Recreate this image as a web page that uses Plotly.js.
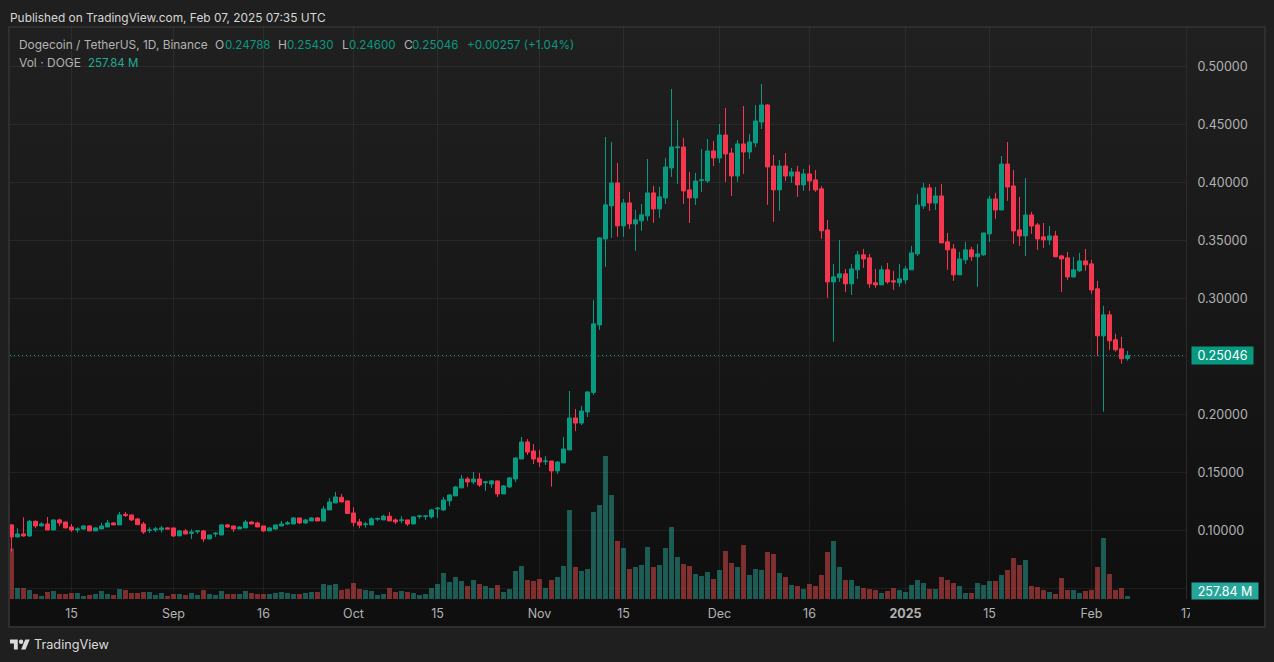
<!DOCTYPE html>
<html>
<head>
<meta charset="utf-8">
<script src="https://cdn.plot.ly/plotly-3.0.1.min.js"></script>
<style>
  html, body { margin: 0; padding: 0; width: 1274px; height: 662px; overflow: hidden; background: #1f1f1f; }
  #frame { position: absolute; left: 8px; top: 26px; width: 1258px; height: 602px; box-sizing: border-box; border: 2px solid #2e2e2e; background: #0f0f0f; }
  #pane { position: absolute; left: 0; top: 0; width: 100%; height: 571px; background: linear-gradient(#202020, #0f0f0f); }
  #myDiv { position: absolute; left: 0; top: 0; width: 1274px; height: 662px; }
  #cover { position: absolute; left: 1190px; top: 600px; width: 74px; height: 26px; background: #0f0f0f; }
  #logo { position: absolute; left: 10px; top: 639px; width: 20px; height: 11px; fill: #dbdbdb; }
</style>
</head>
<body>
<div id="frame"><div id="pane"></div></div>
<div id="myDiv"></div>
<div id="cover"></div>
<svg id="logo" viewBox="0 4 36 18"><path d="M14 22H7V11H0V4h14v18zM28 22h-8l7.5-18h8L28 22z"/><circle cx="20" cy="8" r="4"/></svg>
<script>
// daily DOGE/USDT candles, first one is 2024-08-05
var open = [
  0.1044,0.0940,0.0966,0.0949,0.1075,0.1035,0.1052,0.1000,0.1087,0.1069,
  0.1026,0.1000,0.1009,0.1035,0.0992,0.1009,0.1026,0.1061,0.1044,0.1135,
  0.1130,0.1095,0.1052,0.0995,0.1000,0.1003,0.1018,0.1018,0.0949,0.0992,
  0.0971,0.0986,0.0992,0.0923,0.0966,0.0957,0.1044,0.1035,0.1009,0.1018,
  0.1069,0.1061,0.1035,0.0992,0.1009,0.1035,0.1052,0.1052,0.1104,0.1061,
  0.1078,0.1104,0.1078,0.1173,0.1233,0.1282,0.1251,0.1147,0.1070,0.1047,
  0.1044,0.1093,0.1087,0.1119,0.1087,0.1081,0.1087,0.1052,0.1116,0.1116,
  0.1113,0.1182,0.1173,0.1251,0.1294,0.1363,0.1440,0.1414,0.1440,0.1408,
  0.1397,0.1423,0.1311,0.1371,0.1440,0.1612,0.1759,0.1681,0.1621,0.1589,
  0.1595,0.1509,0.1578,0.1690,0.1966,0.1922,0.2017,0.2186,0.2768,0.3509,
  0.3794,0.3992,0.3622,0.3820,0.3639,0.3665,0.3708,0.3906,0.3768,0.3863,
  0.4121,0.4296,0.4302,0.3932,0.3863,0.4012,0.4009,0.4268,0.4207,0.4405,
  0.4250,0.4052,0.4328,0.4259,0.4337,0.4517,0.4664,0.4138,0.3932,0.4138,
  0.4052,0.4087,0.3975,0.4070,0.4018,0.3941,0.3587,0.3139,0.3174,0.3208,
  0.3122,0.3243,0.3372,0.3346,0.3131,0.3113,0.3243,0.3148,0.3131,0.3156,
  0.3243,0.3380,0.3794,0.3949,0.3819,0.3880,0.3484,0.3423,0.3200,0.3329,
  0.3415,0.3355,0.3372,0.3553,0.3854,0.3759,0.4155,0.3966,0.3587,0.3535,
  0.3716,0.3630,0.3527,0.3501,0.3535,0.3363,0.3346,0.3182,0.3234,0.3320,
  0.3294,0.3079,0.2674,0.2855,0.2640,0.2562,0.24788
];
var close = [
  0.0940,0.0966,0.0949,0.1075,0.1035,0.1052,0.1000,0.1087,0.1061,0.1018,
  0.1000,0.1009,0.1035,0.0992,0.1018,0.1035,0.1061,0.1044,0.1130,0.1127,
  0.1087,0.1046,0.0983,0.1000,0.1009,0.1018,0.1009,0.0949,0.0992,0.0966,
  0.0983,0.0992,0.0923,0.0957,0.0972,0.1044,0.1026,0.1009,0.1026,0.1069,
  0.1052,0.1026,0.0992,0.1018,0.1044,0.1052,0.1061,0.1104,0.1061,0.1087,
  0.1104,0.1078,0.1181,0.1242,0.1285,0.1242,0.1142,0.1064,0.1041,0.1052,
  0.1096,0.1099,0.1119,0.1078,0.1070,0.1087,0.1052,0.1113,0.1121,0.1121,
  0.1173,0.1188,0.1259,0.1302,0.1371,0.1440,0.1414,0.1440,0.1388,0.1414,
  0.1423,0.1311,0.1380,0.1449,0.1621,0.1759,0.1672,0.1612,0.1586,0.1595,
  0.1509,0.1586,0.1698,0.1966,0.1922,0.2026,0.2190,0.2777,0.3518,0.3803,
  0.3992,0.3622,0.3820,0.3639,0.3674,0.3717,0.3906,0.3768,0.3872,0.4130,
  0.4302,0.4302,0.3923,0.3863,0.4009,0.4018,0.4268,0.4207,0.4405,0.4242,
  0.4052,0.4328,0.4259,0.4345,0.4526,0.4664,0.4130,0.3932,0.4138,0.4052,
  0.4087,0.3975,0.4070,0.4009,0.3932,0.3579,0.3139,0.3182,0.3208,0.3122,
  0.3251,0.3372,0.3337,0.3122,0.3113,0.3243,0.3139,0.3139,0.3165,0.3251,
  0.3389,0.3802,0.3949,0.3819,0.3880,0.3475,0.3415,0.3200,0.3337,0.3415,
  0.3355,0.3380,0.3561,0.3854,0.3759,0.4155,0.3957,0.3578,0.3535,0.3716,
  0.3621,0.3509,0.3501,0.3535,0.3355,0.3337,0.3182,0.3243,0.3320,0.3286,
  0.3070,0.2674,0.2855,0.2631,0.2554,0.2476,0.25046
];
var high = [
  0.1050,0.1015,0.1110,0.1087,0.1081,0.1067,0.1112,0.1090,0.1098,0.1070,
  0.1052,0.1023,0.1041,0.1041,0.1023,0.1061,0.1087,0.1069,0.1155,0.1155,
  0.1130,0.1104,0.1069,0.1023,0.1026,0.1035,0.1026,0.1018,0.1000,0.1009,
  0.1006,0.0992,0.1000,0.0957,0.0983,0.1052,0.1052,0.1035,0.1035,0.1087,
  0.1078,0.1072,0.1035,0.1026,0.1044,0.1078,0.1078,0.1112,0.1104,0.1095,
  0.1112,0.1112,0.1207,0.1276,0.1328,0.1311,0.1251,0.1196,0.1096,0.1070,
  0.1110,0.1107,0.1130,0.1153,0.1101,0.1119,0.1087,0.1119,0.1121,0.1121,
  0.1182,0.1199,0.1285,0.1311,0.1380,0.1474,0.1457,0.1500,0.1492,0.1423,
  0.1431,0.1423,0.1388,0.1457,0.1629,0.1802,0.1784,0.1741,0.1690,0.1638,
  0.1595,0.1595,0.1802,0.2198,0.2043,0.2069,0.2198,0.2984,0.3525,0.4388,
  0.4345,0.4164,0.3854,0.3915,0.3760,0.3811,0.4199,0.3966,0.3958,0.4207,
  0.4802,0.4535,0.4380,0.4087,0.4078,0.4285,0.4371,0.4354,0.4500,0.4638,
  0.4294,0.4362,0.4655,0.4414,0.4664,0.4845,0.4672,0.4233,0.4190,0.4250,
  0.4121,0.4138,0.4113,0.4147,0.4104,0.3966,0.3673,0.3294,0.3501,0.3251,
  0.3294,0.3406,0.3423,0.3380,0.3251,0.3277,0.3303,0.3234,0.3294,0.3277,
  0.3449,0.3897,0.3992,0.3983,0.3957,0.3983,0.3561,0.3466,0.3398,0.3484,
  0.3441,0.3466,0.3561,0.3880,0.3906,0.4224,0.4345,0.4104,0.3871,0.4035,
  0.3742,0.3647,0.3647,0.3621,0.3578,0.3372,0.3398,0.3355,0.3389,0.3423,
  0.3329,0.3148,0.2933,0.2890,0.2692,0.2666,0.25430
];
var low = [
  0.0814,0.0940,0.0943,0.0940,0.1015,0.1035,0.1000,0.1000,0.1035,0.1015,
  0.0983,0.0978,0.1000,0.0992,0.0992,0.1009,0.1026,0.1044,0.1044,0.1112,
  0.1078,0.1044,0.0966,0.0975,0.0983,0.0978,0.1006,0.0940,0.0949,0.0966,
  0.0923,0.0966,0.0897,0.0923,0.0940,0.0957,0.1018,0.0983,0.1009,0.1018,
  0.1052,0.1026,0.0983,0.0992,0.1000,0.1035,0.1044,0.1052,0.1052,0.1052,
  0.1078,0.1078,0.1072,0.1173,0.1233,0.1242,0.1142,0.1030,0.1015,0.1021,
  0.1044,0.1078,0.1087,0.1078,0.1052,0.1058,0.1035,0.1052,0.1096,0.1087,
  0.1098,0.1104,0.1164,0.1207,0.1294,0.1363,0.1371,0.1397,0.1371,0.1337,
  0.1363,0.1285,0.1311,0.1363,0.1414,0.1612,0.1647,0.1569,0.1543,0.1560,
  0.1373,0.1483,0.1578,0.1690,0.1853,0.1905,0.1974,0.2166,0.2725,0.3268,
  0.3519,0.3527,0.3527,0.3596,0.3407,0.3579,0.3665,0.3648,0.3691,0.3811,
  0.4044,0.3984,0.3811,0.3648,0.3803,0.3915,0.3992,0.4138,0.4164,0.4001,
  0.3880,0.4001,0.4070,0.4199,0.4302,0.4457,0.3803,0.3656,0.3751,0.4009,
  0.3992,0.3872,0.3923,0.3923,0.3915,0.3510,0.3001,0.2623,0.3139,0.3053,
  0.3027,0.3165,0.3260,0.3088,0.3088,0.3113,0.3122,0.3070,0.3096,0.3122,
  0.3243,0.3363,0.3768,0.3751,0.3759,0.3475,0.3243,0.3148,0.3200,0.3294,
  0.3320,0.3096,0.3363,0.3484,0.3682,0.3759,0.3837,0.3466,0.3449,0.3363,
  0.3553,0.3415,0.3432,0.3458,0.3355,0.3053,0.3156,0.3174,0.3225,0.3234,
  0.3036,0.2502,0.2020,0.2554,0.2537,0.2433,0.24600
];
// volume in millions of DOGE
var volume = [
  4300,935,935,765,425,255,595,680,425,425,
  510,510,255,340,425,680,425,340,850,765,
  510,510,595,595,340,510,255,425,425,340,
  510,340,765,425,340,680,425,425,425,680,
  510,425,425,425,510,595,510,425,425,510,
  595,595,1275,1190,1275,765,850,1360,850,765,
  680,340,425,935,595,680,595,510,340,425,
  935,1275,2210,1445,1870,1530,1105,1615,1275,1105,
  935,1190,595,850,2380,2805,1615,1530,1700,935,
  1615,1870,2805,7565,2720,2380,2550,7395,7990,12155,
  8840,4930,4335,2550,2720,2890,4420,2720,2890,4335,
  6120,3570,2975,2805,2125,1955,2295,1700,2465,4080,
  3060,2720,4590,2040,2550,2465,3995,3825,2210,1870,
  1190,1105,850,1275,1105,2040,3995,4930,2720,1615,
  1615,1105,935,850,765,510,680,935,765,595,
  1190,1615,1360,850,850,1870,1615,1360,1105,510,
  510,1360,1190,1530,1530,2040,2465,3485,2890,3315,
  1105,1020,765,595,425,1785,765,765,510,680,
  765,2720,5185,2125,765,935,257.84
];

var timeTicks = ["2024-08-15","2024-09-01","2024-09-16","2024-10-01","2024-10-15","2024-11-01","2024-11-15","2024-12-01","2024-12-16","2025-01-01","2025-01-15","2025-02-01"];
var timeLabels = ["15","Sep","16","Oct","15","Nov","15","Dec","16","<b>2025</b>","15","Feb"];
var priceTicks = [0.05,0.10,0.15,0.20,0.25,0.30,0.35,0.40,0.45,0.50];
// 0.05 and 0.25 sit under the last volume and last price tags
var priceLabels = ["","0.10000","0.15000","0.20000","","0.30000","0.35000","0.40000","0.45000","0.50000"];

var UP = "#089981", DOWN = "#F7374F";
var FONT = "Inter, 'Liberation Sans', sans-serif";
var GRID = "rgba(255,255,255,0.06)";
var DAY = 86400000;

var dates = open.map(function (o, i) {
  return new Date(Date.UTC(2024, 7, 5 + i)).toISOString().slice(0, 10);
});
var volColors = open.map(function (o, i) {
  return close[i] >= o ? "rgba(40,170,155,0.5)" : "rgba(242,80,80,0.5)";
});

// plot box in page pixels
var L = 10, R = 1186, T = 28, B = 599;
var W = R - L, H = B - T;
var label = function (x, y, text, color, size) {
  return {
    xref: "paper", yref: "paper", x: (x - L) / W, y: (B - y) / H,
    xanchor: "left", yanchor: "middle", showarrow: false, borderpad: 0,
    text: text, font: { family: FONT, size: size || 12, color: color }
  };
};
var GREY = "#b2b2b2";

var annotations = [
  label(9, 18, "Published on TradingView.com, Feb 07, 2025 07:35 UTC", "#d6d6d6", 11.9),
  label(17.5, 44.5, "Dogecoin / TetherUS, 1D, Binance", GREY, 11.9),
  label(214, 44.5, "O", GREY), label(224, 44.5, "0.24788", UP, 11.6),
  label(277, 44.5, "H", GREY), label(286, 44.5, "0.25430", UP, 11.6),
  label(341, 44.5, "L", GREY), label(348, 44.5, "0.24600", UP, 11.6),
  label(403, 44.5, "C", GREY), label(411, 44.5, "0.25046", UP, 11.6),
  label(466, 44.5, "+0.00257 (+1.04%)", UP, 11.7),
  label(17.5, 62.5, "Vol · DOGE", GREY),
  label(87, 62.5, "257.84 M", "#22ab94", 11.5),
  label(1180, 613.5, "17", GREY, 12.5),
  label(33, 644.5, "TradingView", "#dbdbdb", 12.7),
  // last price and last volume tags
  {
    xref: "paper", yref: "y2", x: (1191 - L) / W, y: 0.25046, xanchor: "left", yanchor: "middle",
    showarrow: false, text: "0.25046", width: 61, height: 17, bgcolor: UP, borderpad: 0, align: "center",
    font: { family: FONT, size: 12.5, color: "#ffffff" }
  },
  {
    xref: "paper", yref: "paper", x: (1191 - L) / W, y: (B - 591) / H, xanchor: "left", yanchor: "middle",
    showarrow: false, text: "257.84 M", width: 66, height: 16, bgcolor: "#26a69a", borderpad: 0, align: "center",
    font: { family: FONT, size: 12.5, color: "#ffffff" }
  }
];

var volumeTrace = {
  type: "bar", x: dates, y: volume, yaxis: "y", width: 0.82 * DAY,
  marker: { color: volColors, line: { width: 0 } }, hoverinfo: "skip"
};
var priceTrace = {
  type: "candlestick", x: dates, open: open, high: high, low: low, close: close, yaxis: "y2",
  increasing: { line: { color: UP, width: 1 }, fillcolor: UP },
  decreasing: { line: { color: DOWN, width: 1 }, fillcolor: DOWN },
  whiskerwidth: 0, hoverinfo: "skip"
};

var layout = {
  width: 1274, height: 662,
  margin: { l: L, r: 1274 - R, t: T, b: 662 - B, pad: 0 },
  paper_bgcolor: "rgba(0,0,0,0)", plot_bgcolor: "rgba(0,0,0,0)",
  showlegend: false, boxgap: 0.05, dragmode: false,
  font: { family: FONT, size: 12.5, color: GREY },
  xaxis: {
    type: "date", range: ["2024-08-04 18:00", "2025-02-16 18:00"],
    rangeslider: { visible: false },
    tickmode: "array", tickvals: timeTicks, ticktext: timeLabels,
    showgrid: true, gridcolor: GRID, gridwidth: 1, zeroline: false,
    ticks: "outside", ticklen: 3, tickcolor: "rgba(0,0,0,0)",
    tickfont: { family: FONT, size: 12.5, color: GREY }
  },
  yaxis: {
    range: [0, H * 85], showgrid: false, zeroline: false, showticklabels: false, ticks: ""
  },
  yaxis2: {
    overlaying: "y", side: "right", range: [0.04052, 0.53276],
    tickmode: "array", tickvals: priceTicks, ticktext: priceLabels,
    showgrid: true, gridcolor: GRID, gridwidth: 1, zeroline: false,
    showline: true, linecolor: "#2a2a2a", linewidth: 1,
    ticks: "outside", ticklen: 8, tickcolor: "rgba(0,0,0,0)", ticklabelshift: 1,
    tickfont: { family: FONT, size: 12.5, color: GREY }
  },
  shapes: [{
    type: "line", xref: "paper", yref: "y2", x0: 0, x1: 1, y0: 0.25046, y1: 0.25046,
    line: { color: UP, width: 1, dash: "1px,3px" }
  }],
  annotations: annotations
};

Plotly.newPlot("myDiv", [volumeTrace, priceTrace], layout, { displayModeBar: false, staticPlot: true });
</script>
</body>
</html>
